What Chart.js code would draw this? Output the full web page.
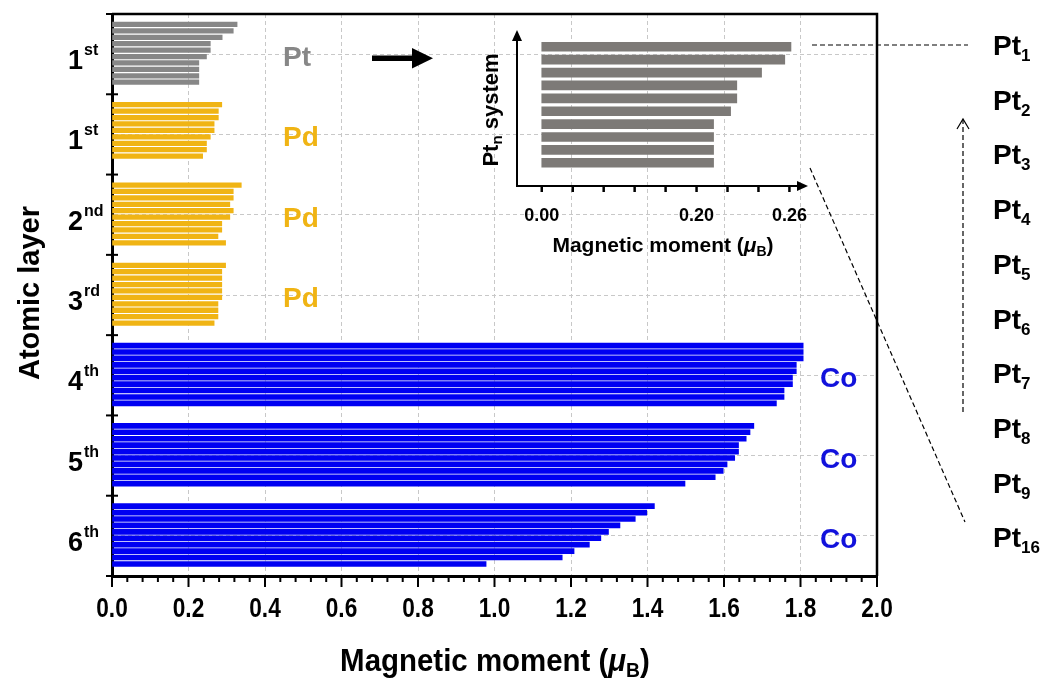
<!DOCTYPE html>
<html>
<head>
<meta charset="utf-8">
<script src="https://cdn.jsdelivr.net/npm/chart.js@4.4.1/dist/chart.umd.min.js"></script>
<style>
  html, body { margin: 0; padding: 0; background: #fff; }
  #wrap { position: relative; width: 1051px; height: 682px; }
  #main { position: absolute; left: 0; top: 0; }
  #inset { position: absolute; left: 480px; top: 20px; }
</style>
</head>
<body>
<div id="wrap">
  <canvas id="main" width="1051" height="682"></canvas>
  <canvas id="inset" width="350" height="240"></canvas>
</div>
<script>
// ---- data ----
const layerNum = ['1', '1', '2', '3', '4', '5', '6'];
const layerSup = ['st', 'st', 'nd', 'rd', 'th', 'th', 'th'];
const layerElem = ['Pt', 'Pd', 'Pd', 'Pd', 'Co', 'Co', 'Co'];

const ptLayer1 = [0.327, 0.317, 0.288, 0.257, 0.257, 0.247, 0.227, 0.227, 0.227, 0.227];
const pdLayer1 = [0.287, 0.278, 0.278, 0.267, 0.267, 0.257, 0.247, 0.247, 0.237];
const pdLayer2 = [0.338, 0.317, 0.317, 0.308, 0.317, 0.308, 0.287, 0.287, 0.277, 0.297];
const pdLayer3 = [0.297, 0.287, 0.287, 0.287, 0.287, 0.287, 0.277, 0.277, 0.277, 0.267];
const coLayer4 = [1.807, 1.807, 1.807, 1.789, 1.789, 1.779, 1.779, 1.757, 1.757, 1.737];
const coLayer5 = [1.678, 1.668, 1.658, 1.638, 1.638, 1.628, 1.608, 1.598, 1.577, 1.498];
const coLayer6 = [1.418, 1.398, 1.368, 1.328, 1.298, 1.278, 1.248, 1.208, 1.177, 0.978];

const ptnSystem = ['1', '2', '3', '4', '5', '6', '7', '8', '9', '16'];
const ptnMoment = [0.261, 0.257, 0.242, 0.226, 0.226, 0.222, 0.211, 0.211, 0.211, 0.211];
// inset axis is broken: evenly spaced ticks, 0.04 steps then 0.02 steps
const insetTicks = [0, 0.04, 0.08, 0.12, 0.16, 0.20, 0.22, 0.24, 0.26];
const insetTickLabels = ['0.00', '', '', '', '', '0.20', '', '', '0.26'];

// ---- styles ----
const GRAY = '#878787', GOLD = '#f0b414', BLUE = '#0000f2', BLUE_TXT = '#1212dc';
const layerColors = [GRAY, GOLD, GOLD, GOLD, BLUE, BLUE, BLUE];
const layerText = [GRAY, GOLD, GOLD, GOLD, BLUE_TXT, BLUE_TXT, BLUE_TXT];
const SANS = '"Liberation Sans", Arial, sans-serif';
const gridLine = { color: '#c8c8c8', lineWidth: 1, drawTicks: false };
const axisBorder = { color: '#000', width: 3, dash: [4, 3] }; // dash applies to grid lines in v4

const layerValues = [ptLayer1, pdLayer1, pdLayer2, pdLayer3, coLayer4, coLayer5, coLayer6];
const slotStart = 0.13, slotStep = 0.08; // bar slots inside one layer band

function richWidth(ctx, parts) {
  let w = 0;
  parts.forEach(p => { ctx.font = p.font; w += ctx.measureText(p.t).width; });
  return w;
}
// text pieces {t, font, dy} laid side by side (sub/superscripts)
function drawRich(ctx, parts, x, y, align, sx) {
  sx = sx || 1;
  const w = richWidth(ctx, parts);
  ctx.save();
  ctx.translate(x, y);
  ctx.scale(sx, 1);
  let cx = align === 'center' ? -w / 2 : align === 'right' ? -w : 0;
  ctx.textAlign = 'left';
  ctx.textBaseline = 'alphabetic';
  parts.forEach(p => {
    ctx.font = p.font;
    ctx.fillText(p.t, cx, p.dy || 0);
    cx += ctx.measureText(p.t).width;
  });
  ctx.restore();
}
function dashed(ctx, x1, y1, x2, y2) {
  ctx.save();
  ctx.strokeStyle = '#000';
  ctx.lineWidth = 1.2;
  ctx.setLineDash([5, 3]);
  ctx.beginPath(); ctx.moveTo(x1, y1); ctx.lineTo(x2, y2); ctx.stroke();
  ctx.restore();
}

const mainDecor = {
  id: 'mainDecor',
  afterDraw(chart) {
    const { ctx, chartArea: a, scales: { x, y } } = chart;
    ctx.save();
    ctx.strokeStyle = '#000';
    ctx.fillStyle = '#000';

    // top / right frame
    ctx.lineWidth = 2.5;
    ctx.beginPath();
    ctx.moveTo(a.left, a.top); ctx.lineTo(a.right, a.top); ctx.lineTo(a.right, a.bottom);
    ctx.stroke();

    // x ticks (major 0.2, minor 0.04)
    for (let i = 0; i <= 50; i++) {
      const px = x.getPixelForValue(i * 0.04);
      const major = i % 5 === 0;
      ctx.lineWidth = 2;
      ctx.beginPath();
      ctx.moveTo(px, a.bottom);
      ctx.lineTo(px, a.bottom + (major ? 11 : 6));
      ctx.stroke();
    }
    // x tick labels, condensed like the original
    x.ticks.forEach(t => {
      drawRich(ctx, [{ t: t.value.toFixed(1), font: 'bold 27px ' + SANS }],
        x.getPixelForValue(t.value), 617, 'center', 0.84);
    });

    // y ticks at layer boundaries, crossing the axis
    for (let g = 0; g <= 7; g++) {
      const py = y.getPixelForValue(g);
      ctx.lineWidth = 2;
      ctx.beginPath(); ctx.moveTo(a.left - 6, py); ctx.lineTo(a.left + 6, py); ctx.stroke();
    }

    // layer labels + element names
    for (let g = 0; g < 7; g++) {
      const cy = y.getPixelForValue(g + 0.5);
      ctx.fillStyle = '#000';
      ctx.textAlign = 'right'; ctx.textBaseline = 'alphabetic';
      ctx.font = 'bold 27px ' + SANS;
      ctx.fillText(layerNum[g], 83, cy + 15);
      ctx.textAlign = 'left';
      ctx.font = 'bold 16px ' + SANS;
      ctx.fillText(layerSup[g], 84, cy + 1);

      ctx.fillStyle = layerText[g];
      ctx.font = 'bold 28px ' + SANS;
      ctx.fillText(layerElem[g], g < 4 ? 283 : 820, cy + 12);
    }

    // arrow towards the inset
    ctx.fillStyle = '#000';
    ctx.fillRect(372, 55.5, 42, 5.5);
    ctx.beginPath(); ctx.moveTo(412, 48); ctx.lineTo(433, 58.2); ctx.lineTo(412, 68.5); ctx.closePath(); ctx.fill();

    // y title
    ctx.save();
    ctx.translate(38.5, 293);
    ctx.rotate(-Math.PI / 2);
    ctx.textAlign = 'center';
    ctx.font = 'bold 29px ' + SANS;
    ctx.fillText('Atomic layer', 0, 0);
    ctx.restore();

    // x title
    drawRich(ctx, [
      { t: 'Magnetic moment (', font: 'bold 32px ' + SANS },
      { t: 'μ', font: 'italic bold 32px ' + SANS },
      { t: 'B', font: 'bold 21px ' + SANS, dy: 6 },
      { t: ')', font: 'bold 32px ' + SANS }
    ], 495, 671, 'center', 0.92);

    // Pt_n labels on the right
    ptnSystem.forEach((n, i) => {
      const cy = 45 + i * 54.7;
      drawRich(ctx, [
        { t: 'Pt', font: 'bold 28px ' + SANS },
        { t: n, font: 'bold 17px ' + SANS, dy: 6 }
      ], 993, cy + 10, 'left');
    });

    // connectors
    dashed(ctx, 812, 45, 968, 45);
    dashed(ctx, 810, 168, 965, 522);
    dashed(ctx, 963, 412, 963, 120);
    ctx.lineWidth = 1.2;
    ctx.beginPath(); ctx.moveTo(957, 129); ctx.lineTo(963, 119); ctx.lineTo(969, 129); ctx.stroke();

    ctx.restore();
  }
};

new Chart(document.getElementById('main'), {
  type: 'bar',
  data: {
    datasets: layerValues.map((vals, g) => ({
      data: vals.map((v, j) => ({ x: v, y: g + slotStart + slotStep * j })),
      backgroundColor: layerColors[g],
      borderWidth: 0,
      barThickness: g >= 4 ? 5 : 4.6,
      grouped: false
    }))
  },
  plugins: [mainDecor],
  options: {
    indexAxis: 'y',
    responsive: false,
    animation: false,
    devicePixelRatio: 1,
    layout: { padding: { left: 112, right: 174, top: 14, bottom: 0 } },
    plugins: { legend: { display: false }, tooltip: { enabled: false } },
    scales: {
      x: {
        type: 'linear', min: 0, max: 2.0, offset: false,
        grid: gridLine,
        border: axisBorder,
        ticks: { stepSize: 0.2, display: false },
        afterFit: s => { s.height = 106; }
      },
      y: {
        type: 'linear', min: 0, max: 7, reverse: true, offset: false,
        grid: gridLine,
        border: axisBorder,
        ticks: { display: false, stepSize: 1 },
        afterFit: s => { s.width = 0; }
      }
    }
  }
});

// ---- inset: Pt_n system ----
function toInsetUnit(v) {
  for (let i = 0; i < insetTicks.length - 1; i++) {
    if (v <= insetTicks[i + 1]) return i + (v - insetTicks[i]) / (insetTicks[i + 1] - insetTicks[i]);
  }
  const n = insetTicks.length - 1;
  return n + (v - insetTicks[n]) / (insetTicks[n] - insetTicks[n - 1]);
}

const insetDecor = {
  id: 'insetDecor',
  afterDraw(chart) {
    const { ctx, chartArea: a, scales: { x } } = chart;
    ctx.save();
    ctx.strokeStyle = '#000';
    ctx.fillStyle = '#000';
    ctx.lineWidth = 2;
    // axes with arrow heads
    ctx.beginPath();
    ctx.moveTo(a.left, a.bottom); ctx.lineTo(a.left, a.top + 8);
    ctx.moveTo(a.left - 1, a.bottom); ctx.lineTo(a.right - 8, a.bottom);
    ctx.stroke();
    ctx.beginPath(); ctx.moveTo(a.left, a.top); ctx.lineTo(a.left - 5, a.top + 11); ctx.lineTo(a.left + 5, a.top + 11); ctx.closePath(); ctx.fill();
    ctx.beginPath(); ctx.moveTo(a.right, a.bottom); ctx.lineTo(a.right - 11, a.bottom - 5); ctx.lineTo(a.right - 11, a.bottom + 5); ctx.closePath(); ctx.fill();

    // ticks + labels
    ctx.textAlign = 'center'; ctx.textBaseline = 'alphabetic';
    ctx.font = 'bold 18px ' + SANS;
    insetTicks.forEach((t, i) => {
      const px = x.getPixelForValue(i);
      ctx.lineWidth = 2.5;
      ctx.beginPath(); ctx.moveTo(px, a.bottom); ctx.lineTo(px, a.bottom + 6); ctx.stroke();
      if (insetTickLabels[i]) ctx.fillText(insetTickLabels[i], px, a.bottom + 35);
    });

    // titles
    drawRich(ctx, [
      { t: 'Magnetic moment (', font: 'bold 21px ' + SANS },
      { t: 'μ', font: 'italic bold 21px ' + SANS },
      { t: 'B', font: 'bold 14px ' + SANS, dy: 4 },
      { t: ')', font: 'bold 21px ' + SANS }
    ], 183, 232, 'center');

    ctx.save();
    ctx.translate(17.5, 90);
    ctx.rotate(-Math.PI / 2);
    drawRich(ctx, [
      { t: 'Pt', font: 'bold 22px ' + SANS },
      { t: 'n', font: 'bold 15px ' + SANS, dy: 4 },
      { t: ' system', font: 'bold 22px ' + SANS }
    ], 0, 0, 'center');
    ctx.restore();
    ctx.restore();
  }
};

new Chart(document.getElementById('inset'), {
  type: 'bar',
  data: {
    datasets: [{
      data: ptnMoment.map((v, j) => ({ x: toInsetUnit(v), y: j })),
      backgroundColor: '#7d7a77',
      borderWidth: 0,
      barThickness: 9,
      grouped: false
    }]
  },
  plugins: [insetDecor],
  options: {
    indexAxis: 'y',
    responsive: false,
    animation: false,
    devicePixelRatio: 1,
    layout: { padding: { left: 37, right: 22, top: 10, bottom: 74 } },
    plugins: { legend: { display: false }, tooltip: { enabled: false } },
    scales: {
      x: { type: 'linear', min: -0.8, max: 8.6, display: false, offset: false },
      y: { type: 'linear', min: -1.3, max: 10.8, reverse: true, display: false, offset: false }
    }
  }
});
</script>
</body>
</html>
